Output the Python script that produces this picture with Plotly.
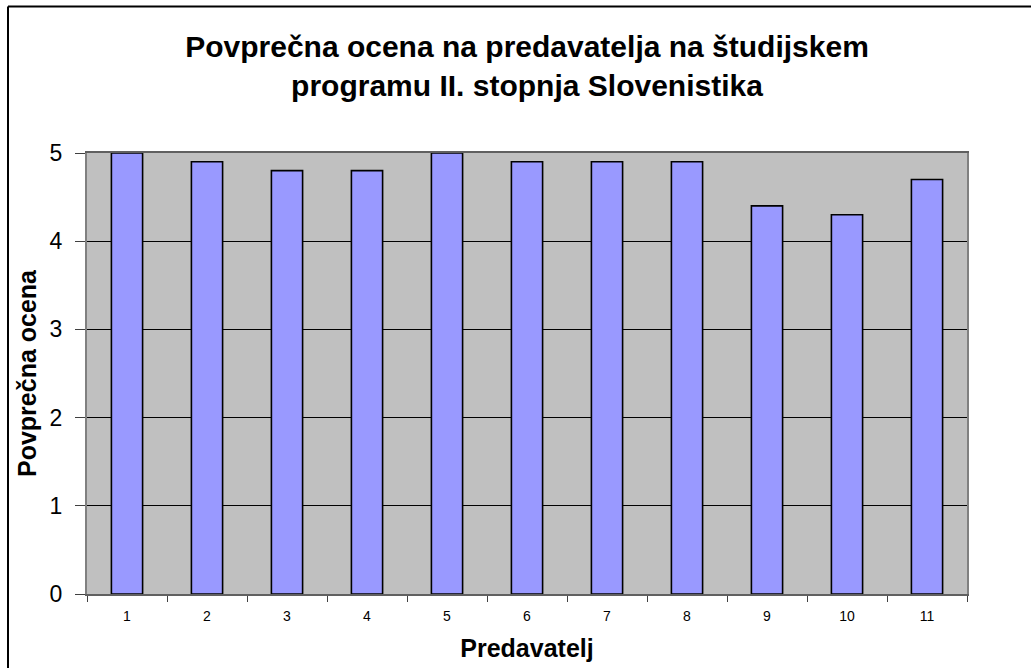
import plotly.graph_objects as go

categories = ["1", "2", "3", "4", "5", "6", "7", "8", "9", "10", "11"]
values = [5.0, 4.9, 4.8, 4.8, 5.0, 4.9, 4.9, 4.9, 4.4, 4.3, 4.7]
y_ticks = [0, 1, 2, 3, 4, 5]

title_text = "Povprečna ocena na predavatelja na študijskem<br>programu II. stopnja Slovenistika"
x_title = "Predavatelj"
y_title = "Povprečna ocena"

W, H = 1031, 668
L, T = 87, 153
R = W - 967
B = H - 594
pw, ph = W - L - R, H - T - B

fig = go.Figure()
fig.add_trace(go.Bar(
    x=categories, y=values,
    marker=dict(color="#9999FF", line=dict(color="#000000", width=1.6)),
    width=0.39,
))

font = "Liberation Sans, Arial, sans-serif"

fx0 = (8 - L) / pw
fy0 = (T + ph - 6.5) / ph

fig.update_layout(
    width=W, height=H,
    margin=dict(l=L, r=R, t=T, b=B, autoexpand=False),
    paper_bgcolor="white",
    plot_bgcolor="#C0C0C0",
    showlegend=False,
    title=dict(
        text="<b>" + title_text + "</b>",
        x=(L + pw / 2) / W, xanchor="center",
        y=1 - 57 / H, yanchor="top",
        font=dict(family=font, size=30, color="black"),
    ),
    xaxis=dict(
        type="category",
        automargin=False,
        tickson="boundaries",
        ticks="outside", ticklen=6, tickcolor="#404040", tickwidth=1,
        tickfont=dict(family=font, size=14, color="black"),
        ticklabelstandoff=8,
        showline=True, linecolor="#606060", linewidth=2, mirror=True,
        showgrid=False,
        title=dict(text="<b>" + x_title + "</b>", standoff=17,
                   font=dict(family=font, size=25, color="black")),
    ),
    yaxis=dict(
        range=[0, 5],
        automargin=False,
        tickvals=y_ticks,
        ticks="outside", ticklen=10, tickcolor="#404040", tickwidth=1,
        tickfont=dict(family=font, size=23, color="black"),
        ticklabelstandoff=8,
        showline=True, linecolor="#808080", linewidth=2, mirror=True,
        showgrid=True, gridcolor="#000000", gridwidth=1,
        zeroline=False,
        title=dict(text="<b>" + y_title + "</b>", standoff=6,
                   font=dict(family=font, size=25, color="black")),
    ),
    shapes=[
        dict(type="line", xref="paper", yref="paper",
             x0=fx0, x1=1.5, y0=fy0, y1=fy0,
             line=dict(color="black", width=2), layer="above"),
        dict(type="line", xref="paper", yref="paper",
             x0=fx0, x1=fx0, y0=fy0, y1=-0.5,
             line=dict(color="black", width=2), layer="above"),
    ],
)

fig.write_html(
    "out.html",
    config={"displayModeBar": False},
    post_script=(
        "document.documentElement.style.overflow='hidden';"
        "document.body.style.overflow='hidden';"
        "document.body.style.margin='0';"
    ),
)
